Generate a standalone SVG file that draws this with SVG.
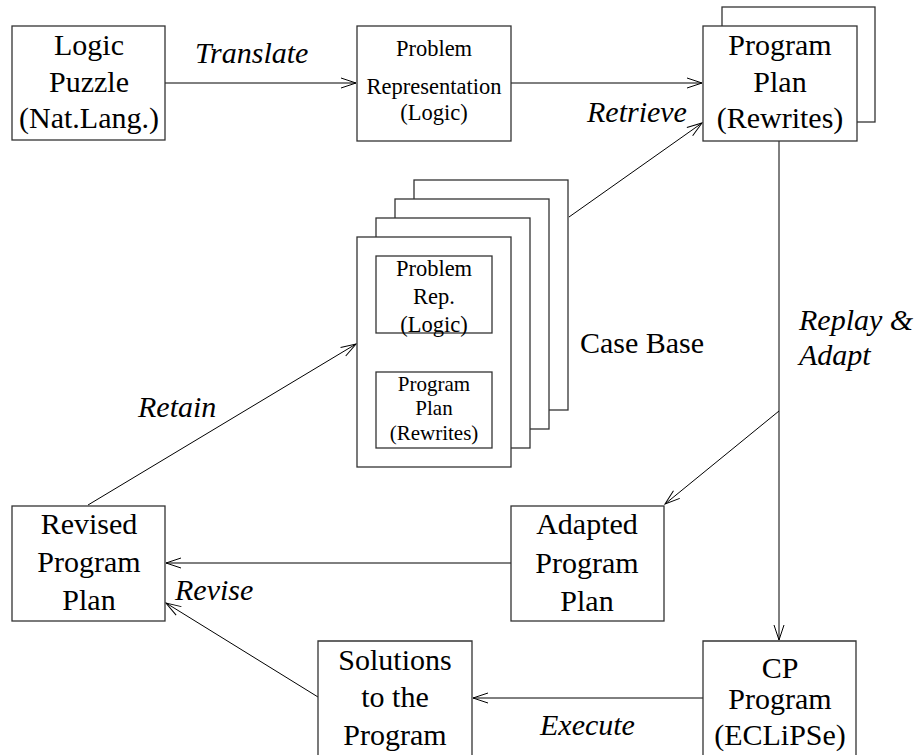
<svg xmlns="http://www.w3.org/2000/svg" width="917" height="755" viewBox="0 0 917 755">
<style>
.box{fill:#fff;stroke:#333;stroke-width:1.3}
.t{font-family:'Liberation Serif','Times New Roman',Times,serif;font-size:30px;fill:#000;text-anchor:middle}
.s{font-family:'Liberation Serif','Times New Roman',Times,serif;font-size:22.5px;fill:#000;text-anchor:middle}
.si{font-family:'Liberation Serif','Times New Roman',Times,serif;font-size:21px;fill:#000;text-anchor:middle}
.i{font-family:'Liberation Serif','Times New Roman',Times,serif;font-size:30px;font-style:italic;fill:#000}
.c{fill:none;stroke:#000;stroke-width:1}
</style>
<defs>
<marker id="ah" markerUnits="userSpaceOnUse" markerWidth="20" markerHeight="14" viewBox="-16 -7 18 14" refX="0" refY="0" orient="auto">
<path d="M-15,-5 L0,0 L-15,5" fill="none" stroke="#000" stroke-width="1"/>
</marker>
</defs>
<rect width="917" height="755" fill="#fff"/>
<g id="connectors">
<line class="c" x1="165" y1="83" x2="356" y2="83" marker-end="url(#ah)"/>
<line class="c" x1="511" y1="83" x2="702" y2="83" marker-end="url(#ah)"/>
<line class="c" x1="569" y1="217" x2="702" y2="123" marker-end="url(#ah)"/>
<line class="c" x1="779" y1="141" x2="779" y2="640" marker-end="url(#ah)"/>
<line class="c" x1="779" y1="411" x2="665" y2="504" marker-end="url(#ah)"/>
<line class="c" x1="511" y1="563" x2="166" y2="563" marker-end="url(#ah)"/>
<line class="c" x1="318" y1="697" x2="166" y2="603" marker-end="url(#ah)"/>
<line class="c" x1="703" y1="698" x2="473" y2="698" marker-end="url(#ah)"/>
<line class="c" x1="88" y1="505" x2="356" y2="344" marker-end="url(#ah)"/>
</g>
<g id="logic-puzzle">
<rect class="box" x="12" y="26" width="153" height="114"/>
<text class="t" x="89" y="55">Logic</text>
<text class="t" x="89" y="92">Puzzle</text>
<text class="t" x="89" y="128">(Nat.Lang.)</text>
</g>
<g id="problem-representation">
<rect class="box" x="357" y="26" width="154" height="115"/>
<text class="s" x="434" y="56">Problem</text>
<text class="s" x="434" y="94">Representation</text>
<text class="s" x="434" y="120">(Logic)</text>
</g>
<g id="program-plan">
<rect class="box" x="722" y="7" width="153" height="115"/>
<rect class="box" x="703" y="26" width="154" height="115"/>
<text class="t" x="780" y="55">Program</text>
<text class="t" x="780" y="92">Plan</text>
<text class="t" x="780" y="128">(Rewrites)</text>
</g>
<g id="case-base">
<rect class="box" x="414" y="180" width="154" height="230"/>
<rect class="box" x="395" y="199" width="154" height="230"/>
<rect class="box" x="376" y="218" width="154" height="230"/>
<rect class="box" x="357" y="237" width="154" height="230"/>
<rect class="box" x="376" y="256" width="116" height="77"/>
<text class="s" x="434" y="276">Problem</text>
<text class="s" x="434" y="304">Rep.</text>
<text class="s" x="434" y="332">(Logic)</text>
<rect class="box" x="376" y="372" width="116" height="76"/>
<text class="si" x="434" y="391">Program</text>
<text class="si" x="434" y="415">Plan</text>
<text class="si" x="434" y="440">(Rewrites)</text>
<text class="t" x="642" y="353">Case Base</text>
</g>
<g id="adapted-program-plan">
<rect class="box" x="511" y="506" width="153" height="115"/>
<text class="t" x="587" y="534">Adapted</text>
<text class="t" x="587" y="573">Program</text>
<text class="t" x="587" y="611">Plan</text>
</g>
<g id="revised-program-plan">
<rect class="box" x="12" y="506" width="153" height="115"/>
<text class="t" x="89" y="534">Revised</text>
<text class="t" x="89" y="572">Program</text>
<text class="t" x="89" y="610">Plan</text>
</g>
<g id="solutions">
<path class="box" d="M318,760 L318,641 L472,641 L472,760"/>
<text class="t" x="395" y="670">Solutions</text>
<text class="t" x="395" y="707">to the</text>
<text class="t" x="395" y="745">Program</text>
</g>
<g id="cp-program">
<path class="box" d="M703,760 L703,641 L856,641 L856,760"/>
<text class="t" x="780" y="678">CP</text>
<text class="t" x="780" y="709">Program</text>
<text class="t" x="780" y="745">(ECLiPSe)</text>
</g>
<g id="labels">
<text class="i" x="195" y="63">Translate</text>
<text class="i" x="587" y="122">Retrieve</text>
<text class="i" x="799" y="330">Replay &amp;</text>
<text class="i" x="799" y="365">Adapt</text>
<text class="i" x="138" y="417">Retain</text>
<text class="i" x="175" y="600">Revise</text>
<text class="i" x="540" y="735">Execute</text>
</g>
</svg>
